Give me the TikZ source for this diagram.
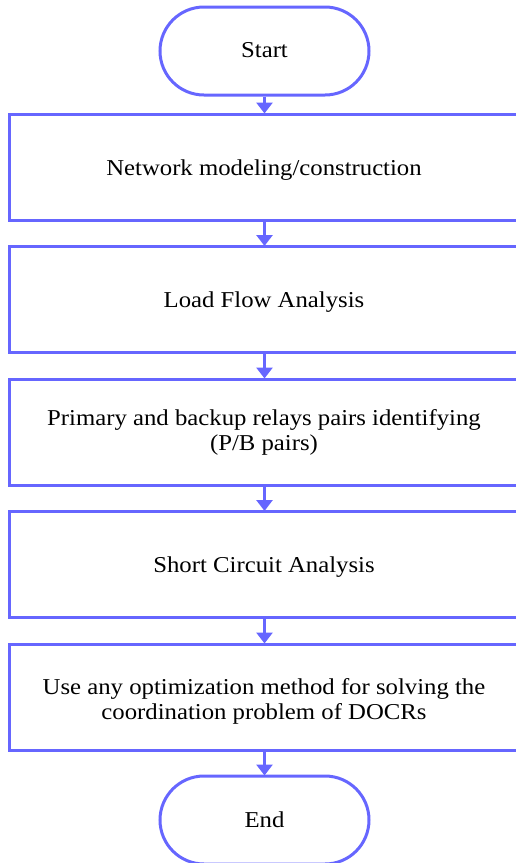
\documentclass[tikz,border=0pt]{standalone}
\usepackage{fontspec}
\setmainfont[FakeStretch=1.09]{Liberation Serif}
\usetikzlibrary{arrows.meta}
\definecolor{flowblue}{RGB}{102,102,255}
\begin{document}
\begin{tikzpicture}[x=1pt,y=1pt,
  every node/.style={font=\fontsize{22.7}{25.5}\selectfont, text=black},
  terminal/.style={draw=flowblue, line width=3pt, rounded corners=44pt,
    minimum width=209pt, minimum height=88pt, inner sep=0pt},
  stepbox/.style={draw=flowblue, line width=3pt, minimum width=510pt,
    minimum height=106pt, inner sep=0pt, align=center},
  oneline/.style={text height=20pt, text depth=4pt},
  flow/.style={draw=flowblue, line width=3pt,
    -{Triangle[width=16pt,length=11pt]}, shorten >=-1pt}]
\useasboundingbox (0,0) rectangle (515,-863);
\node[terminal, text height=18pt, text depth=4.6pt] (start) at (264.5,-51) {Start};
\node[stepbox, oneline] (net) at (264,-167) {Network modeling/construction};
\node[stepbox, oneline] (lf) at (264,-299.5) {Load Flow Analysis};
\node[stepbox, text height=41pt, text depth=4pt] (pb) at (264,-432) {Primary and backup relays pairs identifying\\(P/B pairs)};
\node[stepbox, oneline] (sc) at (264,-564.5) {Short Circuit Analysis};
\node[stepbox, text height=49pt, text depth=4pt] (opt) at (264,-697) {Use any optimization method for solving the\\coordination problem of DOCRs};
\node[terminal, text height=18pt, text depth=3.4pt] (end) at (264.5,-820) {End};
\draw[flow] (start.south) -- (start.south |- net.north);
\draw[flow] (start.south |- net.south) -- (start.south |- lf.north);
\draw[flow] (start.south |- lf.south) -- (start.south |- pb.north);
\draw[flow] (start.south |- pb.south) -- (start.south |- sc.north);
\draw[flow] (start.south |- sc.south) -- (start.south |- opt.north);
\draw[flow] (start.south |- opt.south) -- (end.north);
\end{tikzpicture}
\end{document}
